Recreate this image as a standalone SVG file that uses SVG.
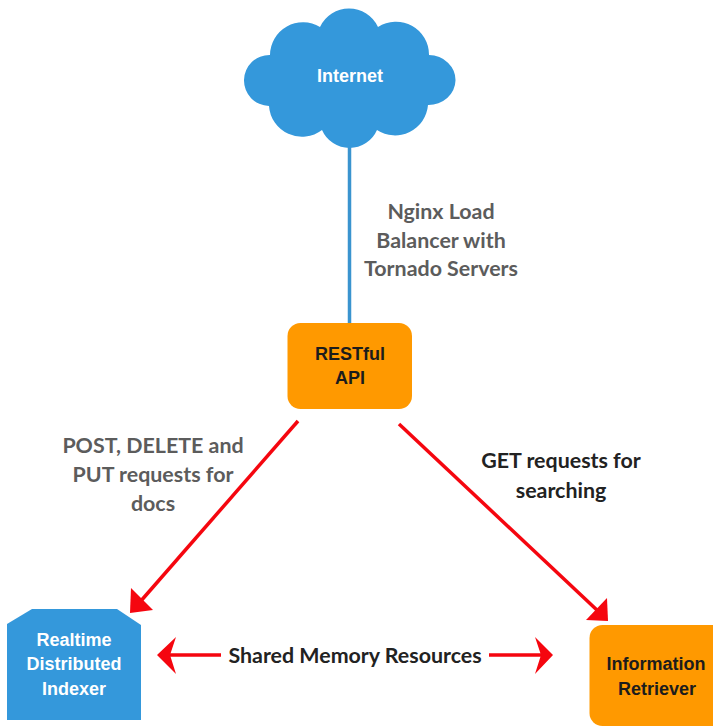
<svg xmlns="http://www.w3.org/2000/svg" width="713" height="728" viewBox="0 0 713 728">
<style>
.w{font-family:"Liberation Sans",Arial,sans-serif;font-weight:700;font-size:18px;fill:#fff;text-anchor:middle}
.k{font-family:"Liberation Sans",Arial,sans-serif;font-weight:700;font-size:18px;fill:#1c1c1c;text-anchor:middle}
.g{font-family:Lato,sans-serif;font-weight:700;font-size:21.400px;fill:#5c5c5c;text-anchor:middle}
.d{font-family:Lato,sans-serif;font-weight:700;font-size:21.400px;fill:#222;text-anchor:middle}
.r{stroke:#f5060f;stroke-width:3.5;fill:none}
.h{fill:#f5060f}
</style>
<rect width="713" height="728" fill="#fff"/>
<g id="connectors">
<line x1="349.500" y1="140" x2="349.500" y2="325" stroke="#3a94cf" stroke-width="3.500"/>
<line class="r" x1="298" y1="421" x2="140" y2="602"/>
<polygon class="h" points="130,613 131,588 153,610"/>
<line class="r" x1="399" y1="424" x2="598" y2="611"/>
<polygon class="h" points="608,621 607,598 586,620"/>
<line class="r" x1="168" y1="655" x2="221" y2="655"/>
<polygon class="h" points="157,655 176,637 170,655 176,674"/>
<line class="r" x1="489" y1="655" x2="543" y2="655"/>
<polygon class="h" points="553,655 535,637 541,655 535,674"/>
</g>
<g id="internet">
<path fill="#3498db" d="M270,55 A33,33 0 0 1 320,27 A32,32 0 0 1 378,27 A33,33 0 0 1 429,55 A27,25 0 0 1 428,105 A33,33 0 0 1 377,130 A30,30 0 0 1 322,130 A33,33 0 0 1 269,106 A25.500,25.500 0 0 1 270,55 Z"/>
<text class="w" x="350" y="82">Internet</text>
</g>
<g id="restful-api">
<rect x="287.500" y="323" width="124.500" height="86" rx="13" fill="#ff9900"/>
<text class="k" x="350" y="360">RESTful</text>
<text class="k" x="350" y="384">API</text>
</g>
<g id="indexer">
<path fill="#3498db" d="M7,624 L32,609 H117 L141,625 V720 H7 Z"/>
<text class="w" x="74" y="646">Realtime</text>
<text class="w" x="74" y="670">Distributed</text>
<text class="w" x="74" y="695">Indexer</text>
</g>
<g id="retriever">
<rect x="589.500" y="625" width="140" height="101" rx="13" fill="#ff9900"/>
<text class="k" x="656" y="670">Information</text>
<text class="k" x="657" y="695">Retriever</text>
</g>
<g id="labels">
<text class="g" x="441" y="219">Nginx Load</text>
<text class="g" x="441" y="248">Balancer with</text>
<text class="g" x="441" y="276">Tornado Servers</text>
<text class="g" x="153" y="453">POST, DELETE and</text>
<text class="g" x="153" y="482">PUT requests for</text>
<text class="g" x="153" y="511">docs</text>
<text class="d" x="561" y="468">GET requests for</text>
<text class="d" x="561" y="498">searching</text>
<text class="d" x="355" y="663">Shared Memory Resources</text>
</g>
</svg>
